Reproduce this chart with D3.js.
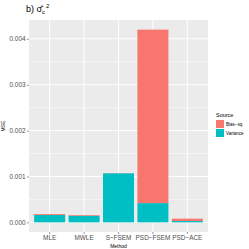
<!DOCTYPE html>
<html>
<head>
<meta charset="utf-8">
<script src="https://cdn.jsdelivr.net/npm/d3@7"></script>
<style>
  body { margin: 0; background: #fff; }
  text { font-family: "Liberation Sans", Arial, sans-serif; }
</style>
</head>
<body>
<div id="chart"></div>
<script>
// Data
const methods = ["MLE", "MWLE", "S\u2212FSEM", "PSD\u2212FSEM", "PSD\u2212ACE"]
const varianceValues = [0.00016, 0.000145, 0.00107, 0.00042, 0.00003]
const biasSqValues = [0.00002, 0.000015, 0.000004, 0.00378, 0.00005]
const sources = ["Bias\u2212sq", "Variance"]
const sourceColors = ["#F8766D", "#00BFC4"]
const yTicks = [0, 0.001, 0.002, 0.003, 0.004]
const yMinorTicks = [0.0005, 0.0015, 0.0025, 0.0035]

const W = 249, H = 249
const margin = { top: 20, right: 41, bottom: 17, left: 29 }
const width = W - margin.left - margin.right
const height = H - margin.top - margin.bottom

const rows = methods.map((m, i) => ({ method: m, Variance: varianceValues[i], Bias: biasSqValues[i] }))
const maxTotal = d3.max(rows, d => d.Variance + d.Bias)
const pad = maxTotal * 0.05

const x = d3.scaleBand()
  .domain(methods)
  .range([0, width])
  .paddingInner(0.1)
  .paddingOuter(0.15)

const y = d3.scaleLinear()
  .domain([-pad, maxTotal + pad])
  .range([height, 0])

const svg = d3.select("#chart").append("svg")
  .attr("width", W)
  .attr("height", H)

const g = svg.append("g")
  .attr("transform", "translate(" + margin.left + "," + margin.top + ")")

// panel background
g.append("rect")
  .attr("width", width)
  .attr("height", height)
  .attr("fill", "#EBEBEB")

// minor grid
g.selectAll("line.minor").data(yMinorTicks)
  .join("line")
  .attr("class", "minor")
  .attr("x1", 0).attr("x2", width)
  .attr("y1", d => y(d)).attr("y2", d => y(d))
  .attr("stroke", "#fff")
  .attr("stroke-width", 0.5)

// major grid
g.selectAll("line.hmajor").data(yTicks)
  .join("line")
  .attr("class", "hmajor")
  .attr("x1", 0).attr("x2", width)
  .attr("y1", d => y(d)).attr("y2", d => y(d))
  .attr("stroke", "#fff")
  .attr("stroke-width", 1)

g.selectAll("line.vmajor").data(methods)
  .join("line")
  .attr("class", "vmajor")
  .attr("x1", d => x(d) + x.bandwidth() / 2).attr("x2", d => x(d) + x.bandwidth() / 2)
  .attr("y1", 0).attr("y2", height)
  .attr("stroke", "#fff")
  .attr("stroke-width", 1)

// stacked bars, Variance at the bottom, Bias-sq on top
const stack = d3.stack().keys(["Variance", "Bias"])
const series = stack(rows)
const colorOf = { Variance: sourceColors[1], Bias: sourceColors[0] }

series.forEach(s => {
  g.selectAll("rect.bar-" + s.key).data(s)
    .join("rect")
    .attr("class", "bar-" + s.key)
    .attr("x", d => x(d.data.method))
    .attr("width", x.bandwidth())
    .attr("y", d => y(d[1]))
    .attr("height", d => y(d[0]) - y(d[1]))
    .attr("fill", colorOf[s.key])
})

// axes
const yAxis = d3.axisLeft(y)
  .tickValues(yTicks)
  .tickFormat(d3.format(".3f"))
  .tickSize(2)
  .tickPadding(1.5)

const xAxis = d3.axisBottom(x)
  .tickSize(2)
  .tickPadding(1.5)

const yg = g.append("g").call(yAxis)
const xg = g.append("g").attr("transform", "translate(0," + height + ")").call(xAxis)

;[yg, xg].forEach(a => {
  a.select(".domain").remove()
  a.selectAll(".tick line").attr("stroke", "#333333").attr("stroke-width", 0.5)
  a.selectAll(".tick text")
    .attr("fill", "#4D4D4D")
    .style("font-size", "6.4px")
    .style("font-family", "'Liberation Sans', Arial, sans-serif")
})

// axis titles
g.append("text")
  .attr("x", width / 2)
  .attr("y", height + 16)
  .attr("text-anchor", "middle")
  .style("font-size", "5px")
  .attr("fill", "#000")
  .text("Method")

g.append("text")
  .attr("transform", "translate(" + (-24) + "," + (height / 2) + ") rotate(-90)")
  .attr("text-anchor", "middle")
  .style("font-size", "5px")
  .attr("fill", "#000")
  .text("MSE")

// title: b) sigma-hat_c ^2
const title = svg.append("text")
  .attr("x", margin.left - 3)
  .attr("y", 12)
  .style("font-size", "9px")
  .attr("fill", "#000")
title.append("tspan").text("b) ")
title.append("tspan").text("\u03C3\u0302")
title.append("tspan").attr("dy", 2).style("font-size", "6px").text("c")
title.append("tspan").attr("dy", -6).attr("dx", 1).style("font-size", "6px").text("2")

// legend
const lx = margin.left + width + 8
const ly = margin.top + height / 2 - 13
const legend = svg.append("g").attr("transform", "translate(" + lx + "," + ly + ")")

legend.append("text")
  .attr("x", 0).attr("y", 4)
  .style("font-size", "5.5px")
  .attr("fill", "#000")
  .text("Source")

legend.selectAll("rect").data(sources)
  .join("rect")
  .attr("x", 0)
  .attr("y", (d, i) => 7 + i * 9)
  .attr("width", 8)
  .attr("height", 8)
  .attr("fill", (d, i) => sourceColors[i])

legend.selectAll("text.lab").data(sources)
  .join("text")
  .attr("class", "lab")
  .attr("x", 10)
  .attr("y", (d, i) => 7 + i * 9 + 5.5)
  .style("font-size", "4.5px")
  .attr("fill", "#000")
  .text(d => d)
</script>
</body>
</html>
